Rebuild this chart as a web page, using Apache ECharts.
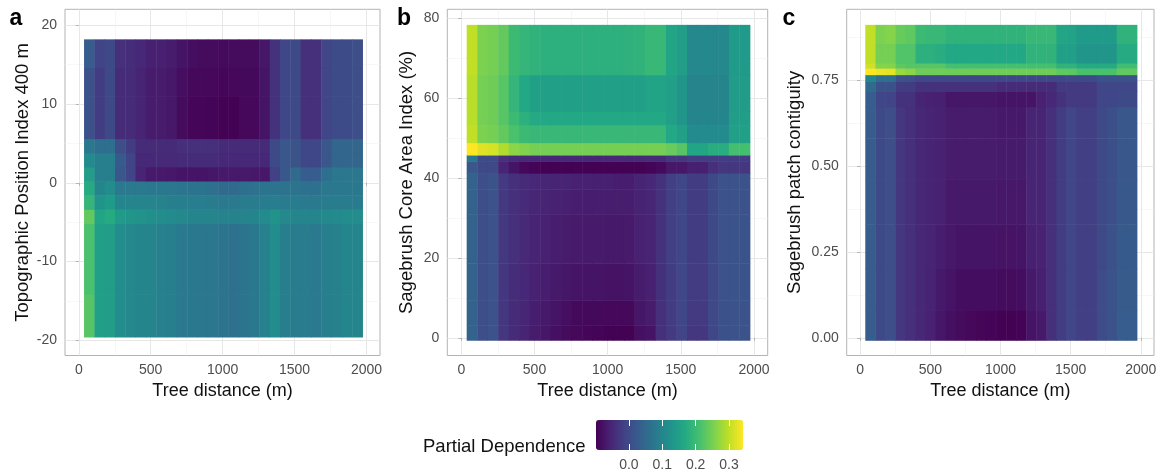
<!DOCTYPE html>
<html><head><meta charset="utf-8">
<script src="https://cdn.jsdelivr.net/npm/echarts@6/dist/echarts.min.js"></script>
<style>html,body{margin:0;padding:0;background:#fff}#chart{width:1166px;height:475px}</style>
</head><body><div id="chart"></div>
<script>
// ---------------- data ----------------
const treeDistance = [74,146,217,289,361,432,504,576,648,719,791,863,934,1006,1078,1149,1221,1293,1365,1436,1508,1580,1651,1723,1795,1866,1938];
const xTicks = [0,500,1000,1500,2000];
const xMinorTicks = [250,750,1250,1750];

// Panel a: Topographic Position Index 400 m (row band edges, bottom to top)
const tpiEdges = [-19.62,-14.22,-5.22,-3.42,-1.62,0.18,1.98,3.78,5.58,10.98,14.58,18.18];
const tpiPD = [
 [0.225,0.15,0.145,0.115,0.105,0.10,0.10,0.092,0.09,0.08,0.078,0.075,0.075,0.068,0.066,0.07,0.078,0.092,0.115,0.09,0.085,0.082,0.08,0.09,0.094,0.10,0.10],
 [0.215,0.15,0.145,0.115,0.105,0.10,0.10,0.092,0.09,0.08,0.078,0.075,0.075,0.068,0.066,0.07,0.078,0.092,0.115,0.09,0.085,0.082,0.08,0.09,0.094,0.10,0.10],
 [0.235,0.16,0.17,0.14,0.13,0.125,0.12,0.115,0.11,0.105,0.10,0.10,0.098,0.095,0.095,0.098,0.10,0.11,0.125,0.105,0.10,0.10,0.10,0.108,0.11,0.115,0.115],
 [0.19,0.125,0.14,0.10,0.10,0.10,0.098,0.095,0.09,0.09,0.088,0.088,0.085,0.08,0.08,0.083,0.085,0.085,0.088,0.085,0.085,0.08,0.08,0.082,0.082,0.082,0.082],
 [0.17,0.10,0.115,0.08,0.08,0.08,0.078,0.078,0.075,0.072,0.07,0.068,0.065,0.055,0.055,0.06,0.065,0.068,0.07,0.07,0.07,0.065,0.065,0.075,0.078,0.078,0.078],
 [0.145,0.09,0.09,0.02,-0.01,-0.055,-0.068,-0.068,-0.07,-0.075,-0.075,-0.075,-0.072,-0.068,-0.068,-0.068,-0.07,-0.07,-0.015,0.02,0.055,0.03,0.03,0.06,0.075,0.075,0.075],
 [0.11,0.09,0.09,0.025,-0.01,-0.05,-0.05,-0.048,-0.048,-0.045,-0.045,-0.045,-0.045,-0.05,-0.05,-0.05,-0.05,-0.05,0.0,0.02,0.015,-0.005,-0.005,0.02,0.045,0.045,0.045],
 [0.075,0.06,0.06,0.005,-0.02,-0.045,-0.045,-0.045,-0.045,-0.04,-0.04,-0.04,-0.04,-0.045,-0.045,-0.045,-0.045,-0.045,0.0,0.02,0.015,-0.005,-0.005,0.02,0.045,0.045,0.045],
 [0.01,-0.02,0.0,-0.045,-0.045,-0.055,-0.065,-0.065,-0.07,-0.085,-0.092,-0.092,-0.094,-0.097,-0.097,-0.09,-0.09,-0.075,-0.035,-0.005,0.0,-0.04,-0.04,-0.008,0.003,0.003,0.005],
 [0.01,-0.02,0.0,-0.045,-0.045,-0.055,-0.065,-0.065,-0.07,-0.082,-0.09,-0.09,-0.09,-0.092,-0.09,-0.088,-0.088,-0.075,-0.035,-0.005,0.0,-0.04,-0.04,-0.008,0.003,0.003,0.005],
 [0.03,-0.01,0.0,-0.04,-0.042,-0.05,-0.06,-0.06,-0.065,-0.075,-0.082,-0.085,-0.085,-0.087,-0.085,-0.085,-0.085,-0.072,-0.035,-0.005,0.0,-0.04,-0.04,-0.008,0.003,0.003,0.005]
];
const tpiTicks = [-20,-10,0,10,20];
const tpiMinorTicks = [-15,-5,5,15];

// Panel b: Sagebrush Core Area Index (%)
const coreEdges = [-0.68,3.1,9.3,18.6,30.9,37.1,41.1,44.1,45.7,48.8,53.2,56.6,65.8,78.3];
const corePD = [
 [0.04,0.005,0.012,-0.03,-0.045,-0.055,-0.065,-0.072,-0.08,-0.085,-0.09,-0.093,-0.095,-0.097,-0.098,-0.097,-0.08,-0.075,-0.04,-0.025,-0.01,-0.03,-0.028,-0.005,0.01,0.012,0.012],
 [0.04,0.005,0.012,-0.03,-0.045,-0.052,-0.062,-0.068,-0.075,-0.082,-0.088,-0.088,-0.088,-0.09,-0.09,-0.088,-0.072,-0.065,-0.04,-0.022,-0.008,-0.025,-0.025,-0.003,0.01,0.012,0.012],
 [0.04,0.005,0.012,-0.028,-0.042,-0.05,-0.058,-0.062,-0.068,-0.072,-0.075,-0.075,-0.075,-0.077,-0.077,-0.075,-0.065,-0.06,-0.038,-0.02,-0.006,-0.022,-0.022,-0.002,0.012,0.014,0.014],
 [0.04,0.005,0.012,-0.027,-0.04,-0.048,-0.054,-0.058,-0.062,-0.065,-0.067,-0.067,-0.067,-0.068,-0.068,-0.067,-0.058,-0.055,-0.036,-0.018,-0.005,-0.02,-0.02,0.0,0.012,0.014,0.014],
 [0.04,0.005,0.013,-0.026,-0.04,-0.046,-0.052,-0.055,-0.058,-0.06,-0.062,-0.063,-0.063,-0.063,-0.064,-0.063,-0.056,-0.052,-0.035,-0.018,-0.005,-0.02,-0.02,0.0,0.012,0.013,0.013],
 [0.04,0.005,0.015,-0.025,-0.04,-0.045,-0.05,-0.052,-0.055,-0.055,-0.058,-0.058,-0.06,-0.06,-0.062,-0.062,-0.055,-0.05,-0.035,-0.018,-0.005,-0.02,-0.02,0.0,0.012,0.012,0.012],
 [0.02,0.0,0.0,-0.055,-0.075,-0.09,-0.095,-0.098,-0.098,-0.098,-0.098,-0.098,-0.098,-0.098,-0.098,-0.098,-0.098,-0.095,-0.087,-0.07,-0.07,-0.06,-0.06,-0.04,-0.03,-0.03,-0.03],
 [0.075,0.0,0.0,-0.04,-0.045,-0.05,-0.05,-0.05,-0.05,-0.05,-0.05,-0.05,-0.05,-0.048,-0.048,-0.048,-0.048,-0.045,-0.045,-0.03,-0.03,-0.02,-0.02,-0.02,-0.02,-0.02,-0.02],
 [0.342,0.322,0.315,0.29,0.265,0.258,0.25,0.25,0.25,0.25,0.25,0.25,0.25,0.25,0.25,0.25,0.25,0.25,0.25,0.24,0.225,0.16,0.16,0.175,0.175,0.21,0.21],
 [0.30,0.255,0.25,0.235,0.215,0.20,0.195,0.195,0.195,0.195,0.195,0.195,0.195,0.195,0.195,0.195,0.195,0.195,0.195,0.165,0.15,0.11,0.11,0.11,0.11,0.15,0.15],
 [0.295,0.25,0.245,0.225,0.20,0.18,0.168,0.165,0.165,0.165,0.165,0.165,0.165,0.165,0.165,0.165,0.165,0.165,0.165,0.15,0.13,0.10,0.10,0.10,0.10,0.145,0.145],
 [0.295,0.25,0.245,0.225,0.19,0.165,0.15,0.15,0.148,0.148,0.148,0.148,0.148,0.148,0.148,0.15,0.15,0.155,0.155,0.15,0.13,0.098,0.098,0.098,0.098,0.142,0.142],
 [0.30,0.255,0.25,0.235,0.20,0.19,0.185,0.18,0.18,0.18,0.18,0.18,0.18,0.18,0.18,0.182,0.185,0.195,0.195,0.16,0.145,0.105,0.105,0.105,0.105,0.14,0.14]
];
const coreTicks = [0,20,40,60,80];
const coreMinorTicks = [10,30,50,70];

// Panel c: Sagebrush patch contiguity
const contigEdges = [-0.008,0.08,0.20,0.33,0.46,0.58,0.672,0.716,0.745,0.765,0.784,0.799,0.857,0.910];
const contigPD = [
 [0.03,0.0,0.005,-0.03,-0.04,-0.05,-0.058,-0.072,-0.08,-0.085,-0.09,-0.093,-0.095,-0.097,-0.098,-0.096,-0.075,-0.068,-0.04,-0.02,-0.008,-0.018,-0.018,0.002,0.012,0.03,0.03],
 [0.03,0.0,0.005,-0.03,-0.04,-0.05,-0.056,-0.068,-0.075,-0.083,-0.083,-0.083,-0.083,-0.085,-0.085,-0.083,-0.068,-0.06,-0.04,-0.02,-0.008,-0.018,-0.018,0.002,0.012,0.028,0.028],
 [0.03,0.0,0.005,-0.03,-0.04,-0.05,-0.055,-0.062,-0.07,-0.075,-0.075,-0.075,-0.075,-0.076,-0.076,-0.075,-0.06,-0.057,-0.04,-0.02,-0.008,-0.018,-0.018,0.0,0.01,0.025,0.025],
 [0.03,0.0,0.005,-0.03,-0.04,-0.05,-0.055,-0.058,-0.068,-0.068,-0.068,-0.068,-0.068,-0.07,-0.07,-0.07,-0.055,-0.055,-0.04,-0.02,-0.008,-0.018,-0.018,0.0,0.008,0.022,0.022],
 [0.03,0.0,0.005,-0.03,-0.04,-0.05,-0.055,-0.058,-0.065,-0.065,-0.065,-0.065,-0.065,-0.066,-0.066,-0.066,-0.055,-0.055,-0.04,-0.02,-0.008,-0.018,-0.018,0.0,0.007,0.02,0.02],
 [0.03,0.0,0.005,-0.03,-0.04,-0.05,-0.055,-0.058,-0.065,-0.065,-0.065,-0.065,-0.065,-0.068,-0.068,-0.068,-0.055,-0.055,-0.04,-0.02,-0.008,-0.018,-0.018,0.0,0.007,0.02,0.02],
 [0.03,-0.005,-0.01,-0.035,-0.035,-0.055,-0.058,-0.06,-0.072,-0.072,-0.072,-0.072,-0.072,-0.075,-0.075,-0.075,-0.075,-0.058,-0.05,-0.035,-0.025,-0.025,-0.025,-0.008,-0.005,0.0,0.0],
 [0.055,0.01,0.01,-0.02,-0.02,-0.035,-0.035,-0.035,-0.035,-0.035,-0.035,-0.035,-0.035,-0.045,-0.045,-0.045,-0.045,-0.045,-0.045,-0.025,-0.025,-0.025,-0.025,-0.005,-0.005,-0.005,-0.005],
 [0.10,0.06,0.06,0.01,0.005,-0.005,-0.005,-0.005,-0.005,-0.005,-0.005,-0.005,-0.005,-0.005,-0.005,-0.005,-0.005,-0.005,-0.005,-0.005,0.0,0.0,0.0,0.01,0.01,0.01,0.01],
 [0.342,0.33,0.325,0.275,0.265,0.245,0.245,0.245,0.245,0.245,0.245,0.245,0.245,0.245,0.245,0.245,0.245,0.245,0.245,0.232,0.23,0.215,0.215,0.215,0.215,0.235,0.235],
 [0.31,0.26,0.26,0.23,0.225,0.225,0.225,0.225,0.21,0.21,0.21,0.21,0.21,0.21,0.21,0.21,0.21,0.21,0.21,0.185,0.185,0.17,0.17,0.17,0.17,0.205,0.205],
 [0.30,0.25,0.25,0.22,0.22,0.18,0.18,0.175,0.165,0.165,0.165,0.165,0.165,0.165,0.165,0.165,0.185,0.185,0.185,0.15,0.15,0.13,0.13,0.13,0.13,0.17,0.17],
 [0.30,0.255,0.26,0.238,0.232,0.20,0.195,0.195,0.185,0.185,0.185,0.185,0.185,0.185,0.185,0.185,0.195,0.195,0.195,0.16,0.155,0.14,0.14,0.14,0.14,0.185,0.185]
];
const contigTicks = [0,0.25,0.5,0.75];
const contigMinorTicks = [0.125,0.375,0.625,0.875];

const legendTicks = [0,0.1,0.2,0.3];
const pdRange = [-0.0987, 0.342];

// ---------------- styling / layout ----------------
const FONT = "'Liberation Sans', Arial, sans-serif";
const viridis = ['#440154','#482475','#414487','#355F8D','#2A788E','#21918C','#22A884','#44BF70','#7AD151','#BDDF26','#FDE725'];
const X_STEP = (treeDistance[treeDistance.length-1] - treeDistance[0]) / (treeDistance.length - 1);
const X_MIN = -96, X_MAX = 2094;

const panels = [
  { grid:{left:65, top:9.3, width:315, height:346.2}, edges:tpiEdges, pd:tpiPD, ticks:tpiTicks, minor:tpiMinorTicks,
    ymin:-21.94, ymax:22.03, name:'Topographic Position Index 400 m', gap:33, fmt:v=>String(v) },
  { grid:{left:447.3, top:9.3, width:320.4, height:346.2}, edges:coreEdges, pd:corePD, ticks:coreTicks, minor:coreMinorTicks,
    ymin:-4.44, ymax:82.26, name:'Sagebrush Core Area Index (%)', gap:31, fmt:v=>String(v) },
  { grid:{left:846.7, top:9.3, width:307.3, height:346.2}, edges:contigEdges, pd:contigPD, ticks:contigTicks, minor:contigMinorTicks,
    ymin:-0.0516, ymax:0.956, name:'Sagebrush patch contiguity', gap:42, fmt:v=>v.toFixed(2) }
];

const grids = [], xAxes = [], yAxes = [], series = [];
const majorLine = {show:true, lineStyle:{color:'#e4e4e4', width:0.9}};
const minorLine = {show:true, lineStyle:{color:'#f1f1f1', width:0.6}};

function renderTile(params, api) {
  const half = X_STEP / 2;
  const p0 = api.coord([api.value(0) - half, api.value(2)]);
  const p1 = api.coord([api.value(0) + half, api.value(1)]);
  return {
    type:'rect',
    shape:{x:p0[0]-0.25, y:p0[1]-0.25, width:p1[0]-p0[0]+0.5, height:p1[1]-p0[1]+0.5},
    style:{fill:api.visual('color')}
  };
}

panels.forEach((p, i) => {
  grids.push(Object.assign({show:true, borderColor:'#b3b3b3', borderWidth:1, backgroundColor:'#fff'}, p.grid));
  xAxes.push({
    type:'value', gridIndex:i, min:X_MIN, max:X_MAX, position:'bottom',
    axisLine:{show:false},
    axisTick:{show:true, length:3, lineStyle:{color:'#b3b3b3'}, customValues:xTicks},
    axisLabel:{customValues:xTicks, color:'#4d4d4d', fontSize:14, fontFamily:FONT, margin:7.5, formatter:v=>String(v)},
    splitLine:majorLine,
    name:'Tree distance (m)', nameLocation:'middle', nameGap:22,
    nameTextStyle:{fontSize:18, color:'#111', fontFamily:FONT}
  });
  xAxes.push({
    type:'value', gridIndex:i, min:X_MIN, max:X_MAX, position:'top',
    axisLine:{show:false}, axisTick:{show:false, customValues:xMinorTicks},
    axisLabel:{show:false, customValues:xMinorTicks}, splitLine:minorLine
  });
  yAxes.push({
    type:'value', gridIndex:i, min:p.ymin, max:p.ymax, position:'left',
    axisLine:{show:false},
    axisTick:{show:true, length:3, lineStyle:{color:'#b3b3b3'}, customValues:p.ticks},
    axisLabel:{customValues:p.ticks, color:'#4d4d4d', fontSize:14, fontFamily:FONT, margin:8, formatter:p.fmt},
    splitLine:majorLine,
    name:p.name, nameLocation:'middle', nameGap:p.gap,
    nameTextStyle:{fontSize:18.5, color:'#111', fontFamily:FONT}
  });
  yAxes.push({
    type:'value', gridIndex:i, min:p.ymin, max:p.ymax, position:'right',
    axisLine:{show:false}, axisTick:{show:false, customValues:p.minor},
    axisLabel:{show:false, customValues:p.minor}, splitLine:minorLine
  });
  const data = [];
  p.pd.forEach((row, r) => {
    row.forEach((v, c) => { data.push([treeDistance[c], p.edges[r], p.edges[r+1], v]); });
  });
  series.push({
    type:'custom', xAxisIndex:2*i, yAxisIndex:2*i, renderItem:renderTile,
    dimensions:['x','y0','y1','pd'], encode:{x:0, y:[1,2]}, data:data, silent:true, animation:false
  });
});

// legend colourbar axes (grid 3)
grids.push({left:596, top:420, width:147, height:30, show:false});
xAxes.push({
  type:'value', gridIndex:3, min:pdRange[0], max:pdRange[1], position:'bottom', z:10,
  axisLine:{show:false},
  axisTick:{show:true, inside:true, length:6, lineStyle:{color:'#ffffff', width:1}, customValues:legendTicks},
  axisLabel:{customValues:legendTicks, color:'#4d4d4d', fontSize:14, fontFamily:FONT, margin:8, formatter:v=>v.toFixed(1)},
  splitLine:{show:false}
});
xAxes.push({
  type:'value', gridIndex:3, min:pdRange[0], max:pdRange[1], position:'top', z:10,
  axisLine:{show:false},
  axisTick:{show:true, inside:true, length:6, lineStyle:{color:'#ffffff', width:1}, customValues:legendTicks},
  axisLabel:{show:false}, splitLine:{show:false}
});
yAxes.push({type:'value', gridIndex:3, min:0, max:1, show:false});

const option = {
  animation:false,
  backgroundColor:'#ffffff',
  textStyle:{fontFamily:FONT},
  title:[
    {text:'a', left:9.5, top:7.5, padding:0, textStyle:{fontSize:23, fontWeight:'bold', color:'#000', fontFamily:FONT}},
    {text:'b', left:397, top:7.5, padding:0, textStyle:{fontSize:23, fontWeight:'bold', color:'#000', fontFamily:FONT}},
    {text:'c', left:782.5, top:7.5, padding:0, textStyle:{fontSize:23, fontWeight:'bold', color:'#000', fontFamily:FONT}},
    {text:'Partial Dependence', left:423, top:437, padding:0, textStyle:{fontSize:18.5, fontWeight:'normal', color:'#111', fontFamily:FONT}}
  ],
  grid:grids,
  xAxis:xAxes,
  yAxis:yAxes,
  visualMap:{
    type:'continuous', min:pdRange[0], max:pdRange[1], dimension:3, seriesIndex:[0,1,2],
    orient:'horizontal', left:596, top:420, itemWidth:30, itemHeight:147, padding:0,
    calculable:false, hoverLink:false, inRange:{color:viridis}, z:4
  },
  series:series
};

const chart = echarts.init(document.getElementById('chart'), null, {renderer:'canvas'});
chart.setOption(option);
</script></body></html>
